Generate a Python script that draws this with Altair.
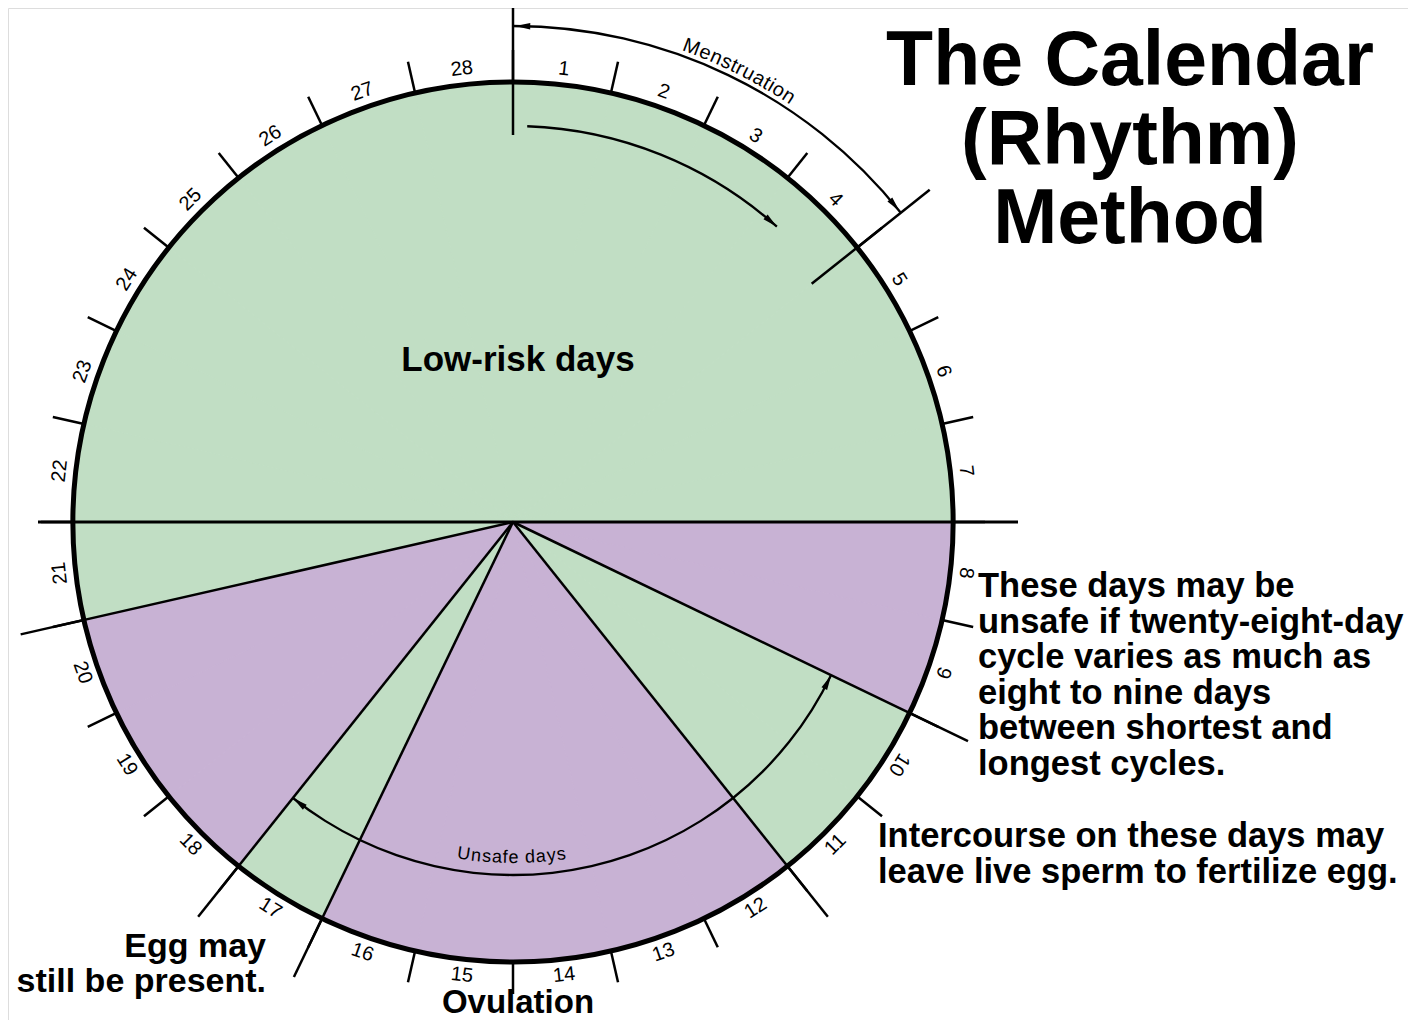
import math
import altair as alt
import pandas as pd

# ---------------- data ----------------
days = list(range(1, 29))
risk = (["Low-risk"] * 7 + ["Unsafe"] * 2 + ["Low-risk"] * 2 + ["Unsafe"] * 5
        + ["Low-risk"] * 1 + ["Unsafe"] * 3 + ["Low-risk"] * 8)
flipped_label_days = list(range(11, 21))
menstruation_span = [0, 4]          # days covered by menstruation
inner_arrow_span = [0.16, 3.25]
unsafe_span = [9, 17]               # unsafe-days arc, in day units

title_lines = ["The Calendar", "(Rhythm)", "Method"]
note_lines = ["These days may be", "unsafe if twenty-eight-day", "cycle varies as much as",
              "eight to nine days", "between shortest and", "longest cycles."]
sperm_lines = ["Intercourse on these days may", "leave live sperm to fertilize egg."]
egg_lines = ["Egg may", "still be present."]
center_labels = ["Low-risk days", "Ovulation"]
arc_words = ["Menstruation", "Unsafe days"]

# ---------------- layout ----------------
GREEN = "#c1dec4"
PURPLE = "#c8b2d4"
FONT = "Liberation Sans"
W, H = 1400, 1012
CX, CY = 513, 522      # circle centre in page pixels
R = 440
XDOM = [8 - CX, 8 + W - CX]
YDOM = [CY - (8 + H), CY - 8]
N = len(days)


def deg(d):
    return d * 360.0 / N


def pol(r, d):
    a = math.radians(deg(d))
    return r * math.sin(a), r * math.cos(a)


def px(ix, iy):
    return ix - CX, CY - iy


xs = alt.Scale(domain=XDOM, nice=False, zero=False)
ys = alt.Scale(domain=YDOM, nice=False, zero=False)
ts = alt.Scale(domain=[0, N], range=[0, 2 * math.pi])


def XF(f="x"):
    return alt.X(f"{f}:Q", scale=xs, axis=None)


def YF(f="y"):
    return alt.Y(f"{f}:Q", scale=ys, axis=None)


X0 = alt.XDatum(0, type="quantitative", scale=xs, axis=None)
Y0 = alt.YDatum(0, type="quantitative", scale=ys, axis=None)

# ---------------- pie of days ----------------
pie_df = pd.DataFrame({"day": days, "t0": [d - 1 for d in days], "t1": days, "risk": risk})
cscale = alt.Scale(domain=["Low-risk", "Unsafe"], range=[GREEN, PURPLE])
pie = alt.Chart(pie_df).mark_arc(radius=R, strokeWidth=1).encode(
    x=X0, y=Y0,
    theta=alt.Theta("t0:Q", scale=ts, stack=None), theta2="t1:Q",
    color=alt.Color("risk:N", scale=cscale, legend=None),
    stroke=alt.Stroke("risk:N", scale=cscale, legend=None),
)

outline = alt.Chart(pd.DataFrame({"t0": [0], "t1": [N]})).mark_arc(
    radius=R, fillOpacity=0, stroke="black", strokeWidth=5
).encode(x=X0, y=Y0, theta=alt.Theta("t0:Q", scale=ts, stack=None), theta2="t1:Q")


def guide_arc(span, r, th=2.3):
    return alt.Chart(pd.DataFrame({"t0": [span[0]], "t1": [span[1]]})).mark_arc(
        radius=r + th / 2, innerRadius=r - th / 2, color="black"
    ).encode(x=X0, y=Y0, theta=alt.Theta("t0:Q", scale=ts, stack=None), theta2="t1:Q")


R_OUT, R_IN, R_UNSAFE = 496, 396, 353
arcs = [guide_arc(menstruation_span, R_OUT), guide_arc(inner_arrow_span, R_IN),
        guide_arc(unsafe_span, R_UNSAFE)]

# ---------------- lines ----------------
segs = []
for b in range(N):
    x1, y1 = pol(R, b)
    x2, y2 = pol(472, b)
    segs.append((x1, y1, x2, y2, 2.5))
changes = [b for b in range(1, N) if risk[b] != risk[b - 1]]
for b in changes:
    if b == 7:
        continue
    x2, y2 = pol(505, b)
    segs.append((0, 0, x2, y2, 2.5))
# horizontal diameter (7/8 boundary and 21/22 boundary)
xa, ya = pol(475, 21)
xb, yb = pol(505, 7)
segs.append((xa, ya, xb, yb, 3.2))
# start of cycle and end of menstruation markers
for b, r1, r2 in [(0, 387, 519), (4, 382, 533)]:
    x1, y1 = pol(r1, b)
    x2, y2 = pol(r2, b)
    segs.append((x1, y1, x2, y2, 2.5))
seg_df = pd.DataFrame(segs, columns=["x", "y", "x2", "y2", "w"])
rules = alt.Chart(seg_df).mark_rule(color="black", strokeCap="butt").encode(
    x=XF(), y=YF(), x2="x2:Q", y2="y2:Q",
    strokeWidth=alt.StrokeWidth("w:Q", scale=None),
)

# ---------------- arrowheads ----------------
ALEN = 15
heads = []
for tip, r, cw in [(menstruation_span[0] + 0.02, R_OUT, False),
                   (menstruation_span[1] - 0.02, R_OUT, True),
                   (inner_arrow_span[1], R_IN, True),
                   (unsafe_span[0], R_UNSAFE, False),
                   (unsafe_span[1], R_UNSAFE, True)]:
    dd = (ALEN / 2) / r * N / (2 * math.pi)
    c = tip - dd if cw else tip + dd
    x, y = pol(r, c)
    ang = (deg(c) + 90) % 360 if cw else (deg(c) - 90) % 360
    heads.append((x, y, ang))
head_df = pd.DataFrame(heads, columns=["x", "y", "ang"])
arrows = alt.Chart(head_df).mark_point(
    shape="M0,-1L0.42,1L-0.42,1Z", filled=True, color="black", opacity=1, size=ALEN * ALEN
).encode(x=XF(), y=YF(), angle=alt.Angle("ang:Q", scale=None))

# ---------------- day labels ----------------
lab = []
for d in days:
    m = d - 0.5
    x, y = pol(456, m)
    a = deg(m)
    if d in flipped_label_days:
        a -= 180
    lab.append((str(d), x, y, a % 360))
lab_df = pd.DataFrame(lab, columns=["t", "x", "y", "ang"])
day_labels = alt.Chart(lab_df).mark_text(
    font=FONT, fontSize=20, color="black", align="center", baseline="middle"
).encode(x=XF(), y=YF(), text="t:N", angle=alt.Angle("ang:Q", scale=None))

# ---------------- curved words ----------------
CW_ = {'M': .833, 'e': .556, 'n': .556, 's': .5, 't': .278, 'r': .333, 'u': .556, 'a': .556,
       'i': .222, 'o': .556, 'U': .722, 'f': .278, ' ': .278, 'd': .556, 'y': .5}


def curved(word, r, center_deg, size, span_px, outside):
    widths = [CW_.get(c, .55) * size for c in word]
    tot = sum(widths)
    k = span_px / tot
    rows = []
    acc = 0
    for c, w in zip(word, widths):
        s = (acc + w / 2 - tot / 2) * k
        acc += w
        if c == " ":
            continue
        if outside:
            th = center_deg + math.degrees(s / r)
            rot = th
        else:
            th = center_deg - math.degrees(s / r)
            rot = th - 180
        a = math.radians(th)
        rows.append((c, r * math.sin(a), r * math.cos(a), rot % 360))
    return pd.DataFrame(rows, columns=["t", "x", "y", "ang"])


def curved_layer(df, size):
    return alt.Chart(df).mark_text(
        font=FONT, fontSize=size, color="black", align="center", baseline="middle"
    ).encode(x=XF(), y=YF(), text="t:N", angle=alt.Angle("ang:Q", scale=None))


mens = curved_layer(curved(arc_words[0], 507, 26.6, 20, 124, True), 20)
unsafe = curved_layer(curved(arc_words[1], 336, 180.3, 18, 110, False), 18)

# ---------------- annotation text ----------------


def text_layer(lines, ix, iy0, step, size, align, bold=True):
    rows = []
    for i, t in enumerate(lines):
        x, y = px(ix, iy0 + i * step)
        rows.append((t, x, y))
    df = pd.DataFrame(rows, columns=["t", "x", "y"])
    return alt.Chart(df).mark_text(
        font=FONT, fontSize=size, fontWeight="bold" if bold else "normal",
        color="black", align=align, baseline="alphabetic"
    ).encode(x=XF(), y=YF(), text="t:N")


title = text_layer(title_lines, 1130, 85, 79, 77, "center")
notes = text_layer(note_lines, 978, 597, 35.6, 34.5, "left")
sperm = text_layer(sperm_lines, 878, 847, 35.5, 34.5, "left")
egg = text_layer(egg_lines, 266, 957, 35, 34, "right")
lowrisk = text_layer(center_labels[:1], 518, 371, 0, 35, "center")
ovul = text_layer(center_labels[1:], 518, 1013, 0, 33, "center")

chart = alt.layer(
    pie, outline, *arcs, rules, arrows, day_labels, mens, unsafe,
    title, notes, sperm, egg, lowrisk, ovul
).properties(
    width=W, height=H, padding=0,
    autosize=alt.AutoSizeParams(type="none"),
).configure_view(strokeWidth=0, strokeOpacity=0).configure(background="white")

chart.save("out.html", embed_options={"renderer": "svg", "actions": False})
